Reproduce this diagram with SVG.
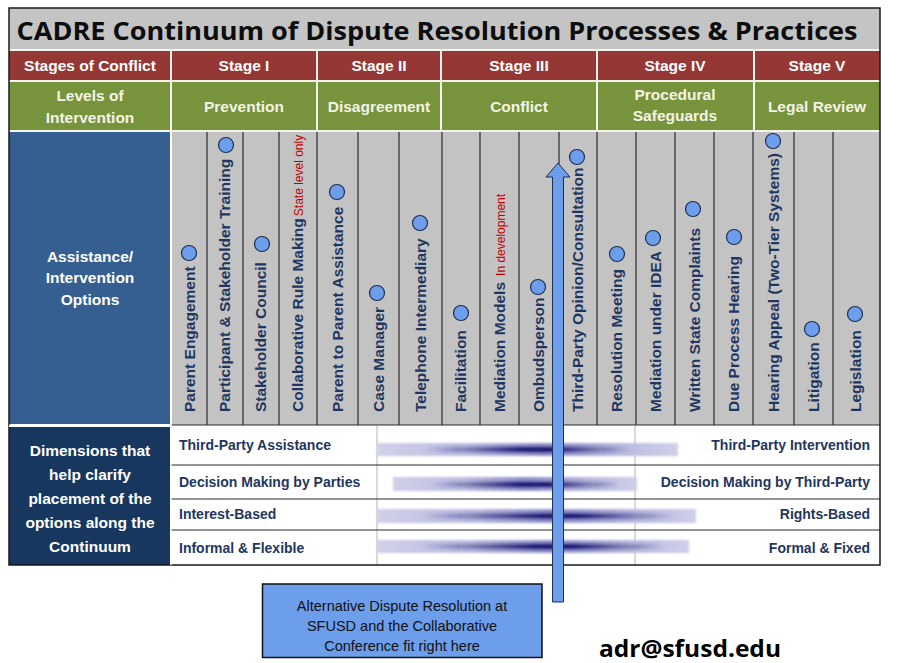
<svg xmlns="http://www.w3.org/2000/svg" width="921" height="663" viewBox="0 0 921 663">
<style>
.hdr{font-family:"Liberation Sans",Arial,sans-serif;font-weight:bold;font-size:15.5px;fill:#ffffff;text-anchor:middle}
.lvl{font-family:"Liberation Sans",Arial,sans-serif;font-weight:bold;font-size:15.5px;fill:#f4f4e6;text-anchor:middle}
.opt{font-family:"Liberation Sans",Arial,sans-serif;font-weight:bold;font-size:15.5px;fill:#1f3660}
.note{font-family:"Liberation Sans",Arial,sans-serif;font-weight:normal;font-size:12px;fill:#c00000}
.dim{font-family:"Liberation Sans",Arial,sans-serif;font-weight:bold;font-size:14px;fill:#1f3660}
.dot{fill:#6d9eeb;stroke:#1f2f4f;stroke-width:1.2}
.col{stroke:#2a2a2a;stroke-width:1.2}
.row{stroke:#2a2a2a;stroke-width:1.2}
.sep{stroke:#f4f4ec;stroke-width:2}
.bar{fill:url(#base);filter:url(#soft)}
.core{fill:url(#core);filter:url(#coreblur)}
</style>
<defs>
<linearGradient id="base" x1="0" y1="0" x2="1" y2="0">
<stop offset="0" stop-color="#d0d0ea"/><stop offset="0.3" stop-color="#bcbce0"/><stop offset="0.55" stop-color="#9090c8"/><stop offset="0.8" stop-color="#b8b8de"/><stop offset="1" stop-color="#d0d0ea"/>
</linearGradient>
<linearGradient id="core" x1="0" y1="0" x2="1" y2="0">
<stop offset="0" stop-color="#12126e" stop-opacity="0"/><stop offset="0.3" stop-color="#12126e" stop-opacity="0.55"/><stop offset="0.5" stop-color="#12126e" stop-opacity="1"/><stop offset="0.62" stop-color="#12126e" stop-opacity="0.95"/><stop offset="0.8" stop-color="#12126e" stop-opacity="0.45"/><stop offset="1" stop-color="#12126e" stop-opacity="0"/>
</linearGradient>
<filter id="soft" x="-5%" y="-50%" width="110%" height="200%"><feGaussianBlur stdDeviation="0.8"/></filter>
<filter id="coreblur" x="-5%" y="-100%" width="110%" height="300%"><feGaussianBlur stdDeviation="1.6"/></filter>
</defs>

<rect x="0" y="0" width="921" height="663" fill="#ffffff"/>

<g id="title">
<rect x="9" y="8" width="871" height="41" fill="#c4c4c4"/>
<text x="437" y="40" text-anchor="middle" font-family="'Open Sans','Noto Sans',sans-serif" font-weight="bold" font-size="25" fill="#0d0d0d" textLength="841" lengthAdjust="spacingAndGlyphs">CADRE Continuum of Dispute Resolution Processes &amp; Practices</text>
</g>

<g id="stages">
<rect x="9" y="51" width="871" height="29" fill="#953735"/>
<text class="hdr" x="90" y="71">Stages of Conflict</text>
<text class="hdr" x="244" y="71">Stage I</text>
<text class="hdr" x="379" y="71">Stage II</text>
<text class="hdr" x="519" y="71">Stage III</text>
<text class="hdr" x="675" y="71">Stage IV</text>
<text class="hdr" x="817" y="71">Stage V</text>
</g>

<g id="levels">
<rect x="9" y="82" width="871" height="48" fill="#77933c"/>
<text class="lvl" x="90" y="101">Levels of</text>
<text class="lvl" x="90" y="123">Intervention</text>
<text class="lvl" x="244" y="112">Prevention</text>
<text class="lvl" x="379" y="112">Disagreement</text>
<text class="lvl" x="519" y="112">Conflict</text>
<text class="lvl" x="675" y="100">Procedural</text>
<text class="lvl" x="675" y="121">Safeguards</text>
<text class="lvl" x="817" y="112">Legal Review</text>
</g>

<g id="header-lines">
<line class="sep" x1="9" y1="50" x2="880" y2="50"/>
<line class="sep" x1="9" y1="81" x2="880" y2="81"/>
<line class="sep" x1="9" y1="131" x2="880" y2="131"/>
<line class="sep" x1="171" y1="50" x2="171" y2="131"/>
<line class="sep" x1="317" y1="50" x2="317" y2="131"/>
<line class="sep" x1="441" y1="50" x2="441" y2="131"/>
<line class="sep" x1="597" y1="50" x2="597" y2="131"/>
<line class="sep" x1="754" y1="50" x2="754" y2="131"/>
</g>

<g id="options-label">
<rect x="9" y="132" width="161" height="292" fill="#355f91"/>
<text class="hdr" x="90" y="262">Assistance/</text>
<text class="hdr" x="90" y="283">Intervention</text>
<text class="hdr" x="90" y="305">Options</text>
</g>

<g id="options-grid">
<rect x="172" y="132" width="708" height="293" fill="#c3c3c3"/>
<line class="col" x1="207" y1="132" x2="207" y2="425"/>
<line class="col" x1="243" y1="132" x2="243" y2="425"/>
<line class="col" x1="279" y1="132" x2="279" y2="425"/>
<line class="col" x1="317" y1="132" x2="317" y2="425"/>
<line class="col" x1="358" y1="132" x2="358" y2="425"/>
<line class="col" x1="399" y1="132" x2="399" y2="425"/>
<line class="col" x1="442" y1="132" x2="442" y2="425"/>
<line class="col" x1="480" y1="132" x2="480" y2="425"/>
<line class="col" x1="519" y1="132" x2="519" y2="425"/>
<line class="col" x1="559" y1="132" x2="559" y2="425"/>
<line class="col" x1="597" y1="132" x2="597" y2="425"/>
<line class="col" x1="636" y1="132" x2="636" y2="425"/>
<line class="col" x1="675" y1="132" x2="675" y2="425"/>
<line class="col" x1="714" y1="132" x2="714" y2="425"/>
<line class="col" x1="753" y1="132" x2="753" y2="425"/>
<line class="col" x1="794" y1="132" x2="794" y2="425"/>
<line class="col" x1="833" y1="132" x2="833" y2="425"/>
<line class="row" x1="170" y1="425" x2="880" y2="425"/>
</g>

<g id="opt-parent-engagement"><text class="opt" transform="translate(194.5,412) rotate(-90)">Parent Engagement</text><circle class="dot" cx="189" cy="253" r="7.5"/></g>
<g id="opt-participant-training"><text class="opt" transform="translate(230,412) rotate(-90)">Participant &amp; Stakeholder Training</text><circle class="dot" cx="226" cy="145" r="7.5"/></g>
<g id="opt-stakeholder-council"><text class="opt" transform="translate(266,412) rotate(-90)">Stakeholder Council</text><circle class="dot" cx="262" cy="244" r="7.5"/></g>
<g id="opt-collaborative-rule"><text class="opt" transform="translate(303,412) rotate(-90)">Collaborative Rule Making<tspan class="note" dx="2">State level only</tspan></text></g>
<g id="opt-parent-to-parent"><text class="opt" transform="translate(342.5,412) rotate(-90)">Parent to Parent Assistance</text><circle class="dot" cx="337" cy="192" r="7.5"/></g>
<g id="opt-case-manager"><text class="opt" transform="translate(383.5,412) rotate(-90)">Case Manager</text><circle class="dot" cx="377" cy="293" r="7.5"/></g>
<g id="opt-telephone"><text class="opt" transform="translate(425.5,412) rotate(-90)">Telephone Intermediary</text><circle class="dot" cx="420" cy="223" r="7.5"/></g>
<g id="opt-facilitation"><text class="opt" transform="translate(466,412) rotate(-90)">Facilitation</text><circle class="dot" cx="461" cy="313" r="7.5"/></g>
<g id="opt-mediation-models"><text class="opt" transform="translate(504.5,412) rotate(-90)">Mediation Models<tspan class="note" dx="6">In development</tspan></text></g>
<g id="opt-ombudsperson"><text class="opt" transform="translate(544,412) rotate(-90)">Ombudsperson</text><circle class="dot" cx="538" cy="287" r="7.5"/></g>
<g id="opt-third-party-opinion"><text class="opt" transform="translate(583,412) rotate(-90)">Third-Party Opinion/Consultation</text><circle class="dot" cx="577" cy="157" r="7.5"/></g>
<g id="opt-resolution-meeting"><text class="opt" transform="translate(621.5,412) rotate(-90)">Resolution Meeting</text><circle class="dot" cx="617" cy="254" r="7.5"/></g>
<g id="opt-mediation-idea"><text class="opt" transform="translate(660.5,412) rotate(-90)">Mediation under IDEA</text><circle class="dot" cx="653" cy="238" r="7.5"/></g>
<g id="opt-written-complaints"><text class="opt" transform="translate(699.5,412) rotate(-90)">Written State Complaints</text><circle class="dot" cx="693" cy="209" r="7.5"/></g>
<g id="opt-due-process"><text class="opt" transform="translate(738.5,412) rotate(-90)">Due Process Hearing</text><circle class="dot" cx="734" cy="237" r="7.5"/></g>
<g id="opt-hearing-appeal"><text class="opt" transform="translate(778.5,412) rotate(-90)">Hearing Appeal (Two-Tier Systems)</text><circle class="dot" cx="773" cy="141" r="7.5"/></g>
<g id="opt-litigation"><text class="opt" transform="translate(818.5,412) rotate(-90)">Litigation</text><circle class="dot" cx="812" cy="329" r="7.5"/></g>
<g id="opt-legislation"><text class="opt" transform="translate(861,412) rotate(-90)">Legislation</text><circle class="dot" cx="855" cy="314" r="7.5"/></g>

<g id="dimensions-label">
<rect x="9" y="427" width="161" height="138" fill="#17375e"/>
<text class="hdr" x="90" y="456">Dimensions that</text>
<text class="hdr" x="90" y="480">help clarify</text>
<text class="hdr" x="90" y="504">placement of the</text>
<text class="hdr" x="90" y="528">options along the</text>
<text class="hdr" x="90" y="552">Continuum</text>
</g>

<g id="dimensions-grid">
<line x1="377" y1="426" x2="377" y2="565" stroke="#b4b4b4" stroke-width="1"/>
<line x1="635" y1="426" x2="635" y2="565" stroke="#b4b4b4" stroke-width="1"/>
<line class="row" x1="170" y1="465" x2="880" y2="465"/>
<line class="row" x1="170" y1="499" x2="880" y2="499"/>
<line class="row" x1="170" y1="530" x2="880" y2="530"/>
</g>

<g id="dim-bars">
<rect class="bar" x="377" y="443" width="301" height="13"/>
<rect class="core" x="425" y="447" width="205" height="5"/>
<rect class="bar" x="393" y="477" width="244" height="14"/>
<rect class="core" x="430" y="482" width="190" height="5"/>
<rect class="bar" x="377" y="509" width="319" height="14"/>
<rect class="core" x="420" y="513.5" width="255" height="5"/>
<rect class="bar" x="377" y="540" width="312" height="13"/>
<rect class="core" x="420" y="544" width="245" height="5"/>
</g>

<g id="dim-texts">
<text class="dim" x="179" y="450">Third-Party Assistance</text>
<text class="dim" x="179" y="487">Decision Making by Parties</text>
<text class="dim" x="179" y="519">Interest-Based</text>
<text class="dim" x="179" y="553">Informal &amp; Flexible</text>
<text class="dim" x="870" y="450" text-anchor="end">Third-Party Intervention</text>
<text class="dim" x="870" y="487" text-anchor="end">Decision Making by Third-Party</text>
<text class="dim" x="870" y="519" text-anchor="end">Rights-Based</text>
<text class="dim" x="870" y="553" text-anchor="end">Formal &amp; Fixed</text>
</g>

<g id="frame">
<rect x="9" y="8" width="871" height="557" fill="none" stroke="#1a1a1a" stroke-width="1.5"/>
<line x1="9" y1="426" x2="170" y2="426" stroke="#ffffff" stroke-width="2"/>
<line x1="171" y1="132" x2="171" y2="565" stroke="#ffffff" stroke-width="1.5"/>
</g>

<g id="connectors">
<path d="M552.5,602 L552.5,177 L546,177 L558,163 L570,177 L563.5,177 L563.5,602 Z" fill="#6d9eeb" stroke="#1f2f4f" stroke-width="1"/>
</g>

<g id="callout">
<rect x="262.5" y="584" width="279.5" height="73.5" fill="#6d9eeb" stroke="#111111" stroke-width="1.5"/>
<text x="402" y="611" text-anchor="middle" font-family="'Liberation Sans',Arial,sans-serif" font-size="14.5" fill="#111111">Alternative Dispute Resolution at</text>
<text x="402" y="631" text-anchor="middle" font-family="'Liberation Sans',Arial,sans-serif" font-size="14.5" fill="#111111">SFUSD and the Collaborative</text>
<text x="402" y="651" text-anchor="middle" font-family="'Liberation Sans',Arial,sans-serif" font-size="14.5" fill="#111111">Conference fit right here</text>
</g>

<g id="email">
<text x="690" y="657" text-anchor="middle" font-family="'Open Sans','Noto Sans',sans-serif" font-weight="bold" font-size="23" fill="#000000" textLength="182" lengthAdjust="spacingAndGlyphs">adr@sfusd.edu</text>
</g>
</svg>
